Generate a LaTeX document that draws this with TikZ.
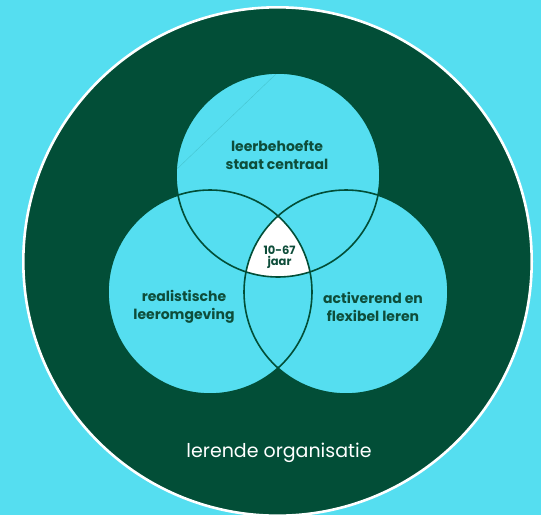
\documentclass[tikz,border=0pt]{standalone}
\usepackage{fontspec}
\setmainfont{Poppins}
\definecolor{bgcyan}{HTML}{55DEF0}
\definecolor{dgreen}{HTML}{024E37}
\definecolor{tgreen}{HTML}{0E4D3A}
\tikzset{
  setcircle/.style={circle, minimum size=204pt, inner sep=0pt, fill=bgcyan},
  ringline/.style={dgreen, line width=1.6pt},
  lbl/.style={text=tgreen, align=center, font=\fontsize{14}{18.5}\selectfont\bfseries},
}
\begin{document}
\begin{tikzpicture}[x=1pt,y=-1pt]
\useasboundingbox (0,0) rectangle (541,515);
\fill[bgcyan] (0,0) rectangle (541,515);
\clip (0,0) rectangle (541,515);
\coordinate (org) at (277.5,261.5);
\fill[dgreen] (org) circle (254pt);
\draw[white, line width=2.6pt] (org) circle (254.2pt);
% set circles
\node[setcircle] (top) at (278,175) {};
\node[setcircle] (left) at (210,292) {};
\node[setcircle] (right) at (346,292) {};
% faint artifact line in top circle
\coordinate (fa) at (277,73);
\coordinate (fb) at (178,168);
\draw[bgcyan!82!dgreen, line width=0.4pt] (fa) -- (fb);
% white centre
\begin{scope}
  \clip (top.center) circle (102pt);
  \clip (left.center) circle (102pt);
  \fill[white] (right.center) circle (102pt);
\end{scope}
% outlines
\draw[ringline] (top.center) circle (102pt);
\draw[ringline] (left.center) circle (102pt);
\draw[ringline] (right.center) circle (102pt);
% labels
\node[lbl] (ltop) at (277,155) {leerbehoefte\\staat centraal};
\node[lbl] (lleft) at (184,307) {realistische\\leeromgeving};
\node[lbl] (lright) at (373,307) {activerend en\\flexibel leren};
\node[lbl, font=\fontsize{11.5}{11.5}\selectfont\bfseries] (lcenter) at (279.5,257) {10-67\\jaar};
\node[text=white, font=\fontsize{19}{22}\selectfont] (lorg) at (279,453) {lerende organisatie};
\end{tikzpicture}
\end{document}
